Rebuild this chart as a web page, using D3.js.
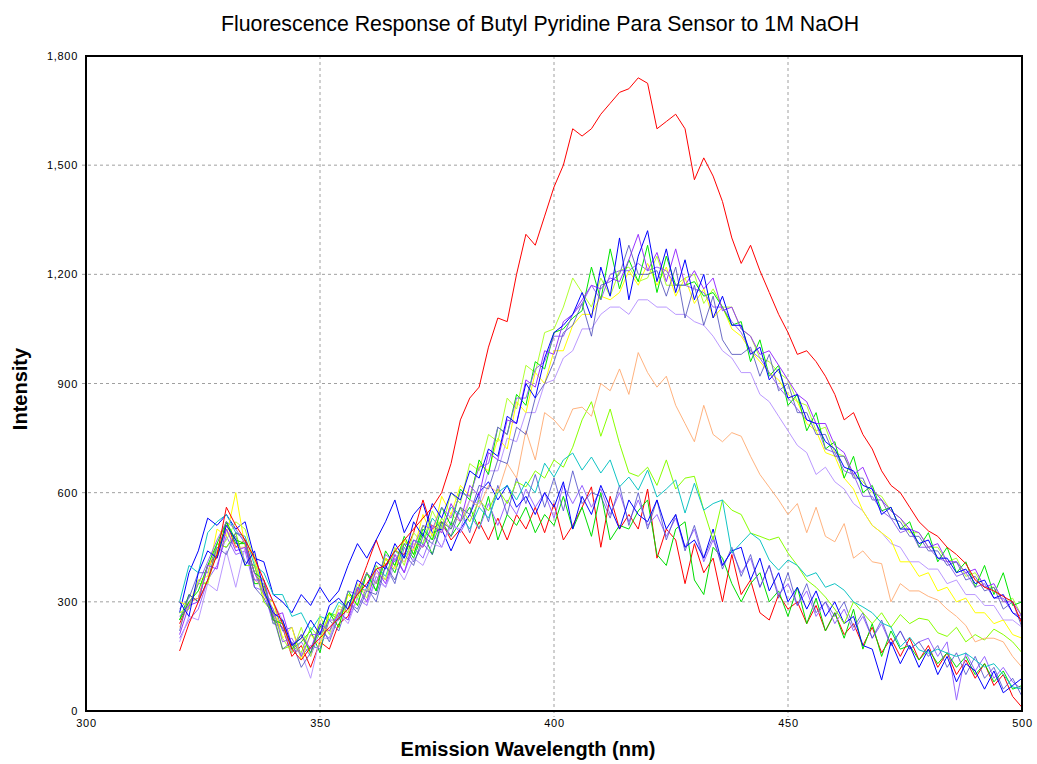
<!DOCTYPE html>
<html lang="en">
<head>
<meta charset="utf-8">
<title>Fluorescence Response</title>
<style>
  body { margin: 0; background: #fff; }
  svg { display: block; font-family: Arial, "Liberation Sans", sans-serif; }
  .grid line { stroke: #a0a0a0; stroke-dasharray: 3,3; }
  .tick text { font-size: 11px; letter-spacing: 0.7px; fill: #000; }
  .series { fill: none; stroke-width: 1; stroke-linejoin: round; }
</style>
</head>
<body>
<div id="chart"></div>
<script src="https://d3js.org/d3.v7.min.js"></script>
<script>
// emission wavelengths (nm), sampled every 2 nm
var wavelength = [320,322,324,326,328,330,332,334,336,338,
  340,342,344,346,348,350,352,354,356,358,
  360,362,364,366,368,370,372,374,376,378,
  380,382,384,386,388,390,392,394,396,398,
  400,402,404,406,408,410,412,414,416,418,
  420,422,424,426,428,430,432,434,436,438,
  440,442,444,446,448,450,452,454,456,458,
  460,462,464,466,468,470,472,474,476,478,
  480,482,484,486,488,490,492,494,496,498,
  500];

// low-response group
var redLow = [240,300,310,400,430,520,450,470,380,340,
  250,230,150,180,120,190,170,240,260,330,
  400,470,400,440,430,490,580,500,520,470,
  500,460,520,470,530,470,540,500,560,490,
  570,470,510,560,616,450,590,500,540,500,
  610,420,500,470,350,460,380,420,300,430,
  320,360,270,250,320,280,300,240,290,220,
  270,210,240,180,230,160,200,150,200,140,
  180,120,160,100,140,90,130,70,100,40,
  10];
var blueLow = [270,380,440,530,510,540,500,520,420,410,
  320,300,270,320,290,340,300,330,400,460,
  420,470,520,580,490,540,570,490,500,440,
  500,540,600,630,580,620,560,590,540,600,
  560,630,500,590,540,620,560,500,580,540,
  520,580,500,540,450,470,420,500,400,440,
  450,360,420,330,380,300,340,280,330,260,
  300,240,260,180,170,85,190,130,180,120,
  170,100,150,80,130,110,60,110,50,70,
  90];
var greenLow = [250,320,300,400,420,520,460,460,350,350,
  240,250,170,190,220,160,270,250,300,320,
  380,330,420,380,460,420,490,430,520,480,
  520,560,500,590,470,540,510,560,490,540,
  510,590,500,560,480,600,470,510,500,550,
  580,430,400,500,520,360,320,450,420,350,
  300,350,380,300,330,260,340,240,310,220,
  270,200,280,170,240,150,220,170,180,140,
  170,130,160,120,150,100,130,80,110,60,
  70];
var purpleLow = [200,250,280,360,400,480,430,440,340,330,
  240,230,160,190,150,220,200,270,250,310,
  290,370,340,420,380,450,420,490,450,520,
  490,540,500,570,510,580,540,610,560,600,
  530,620,570,620,560,610,540,600,520,580,
  510,540,480,530,450,500,410,470,400,440,
  380,420,340,400,320,350,290,330,260,300,
  240,280,220,260,200,240,180,220,170,190,
  200,150,190,30,160,110,150,90,120,80,
  60];
var slateLow = [280,310,380,380,460,450,480,410,400,320,
  300,220,230,150,180,170,250,220,300,280,
  340,300,400,350,450,410,460,430,510,480,
  560,490,590,520,620,540,640,570,650,560,
  640,550,660,570,600,590,530,620,510,600,
  500,580,470,540,440,510,420,480,390,450,
  370,430,340,400,310,380,290,350,270,300,
  260,300,230,270,200,250,180,220,170,190,
  150,180,120,160,100,150,90,120,60,90,
  40];

// middle group
var limeMid = [270,280,350,350,460,450,490,400,400,300,
  270,170,180,160,230,200,270,260,320,310,
  380,350,420,400,470,430,510,470,530,500,
  560,520,580,550,610,570,630,616,660,640,
  690,670,725,800,850,755,830,735,655,645,
  670,620,690,610,640,645,552,470,580,552,
  540,489,480,470,478,434,400,360,340,313,
  280,240,300,270,240,270,230,265,240,255,
  250,215,205,230,190,210,195,225,210,190,
  160];
var cyanMid = [300,400,380,490,520,540,490,480,400,380,
  320,320,260,270,220,260,250,300,280,340,
  330,400,370,440,420,470,460,530,500,560,
  540,500,560,530,600,620,580,630,600,681,
  643,690,709,662,698,654,690,616,643,607,
  662,588,610,635,544,626,552,570,580,434,
  462,489,470,415,387,415,400,370,380,340,
  350,332,300,286,270,242,231,176,203,168,
  159,170,159,150,159,140,121,130,100,66,
  60];
var peach = [230,300,310,400,420,500,450,450,360,340,
  260,240,180,200,170,230,220,280,270,330,
  330,380,360,430,410,460,450,510,490,540,
  520,580,560,620,600,680,640,770,690,820,
  800,770,830,835,810,900,880,940,870,985,
  930,890,920,840,790,740,840,760,740,765,
  755,700,650,615,580,540,570,490,560,480,
  465,515,420,440,410,405,300,350,330,330,
  315,305,280,260,235,190,200,200,190,150,
  120];

// main group
var blueA = [300,260,380,440,420,510,470,400,440,330,
  270,250,180,200,250,210,290,310,280,360,
  340,410,390,460,420,520,480,570,530,600,
  580,660,640,720,700,810,790,900,860,970,
  1040,1060,1090,1150,1080,1220,1140,1300,1130,1250,
  1320,1180,1270,1150,1240,1130,1200,1080,1140,1060,
  1060,980,1000,910,940,860,870,800,790,740,
  720,670,660,620,610,540,560,500,500,460,
  470,420,420,380,390,350,360,310,320,270,
  250];
var slateA = [220,320,300,360,450,430,490,470,340,310,
  260,170,190,120,160,240,190,260,300,270,
  330,320,400,360,430,400,480,460,520,500,
  560,540,620,610,690,680,780,760,860,900,
  960,1040,1060,1120,1030,1170,1180,1200,1280,1200,
  1200,1210,1140,1220,1080,1170,1060,1140,1020,980,
  980,1000,920,980,880,900,820,820,760,760,
  700,700,640,640,580,580,530,520,480,480,
  440,440,400,410,360,370,330,340,280,300,
  230];
var greenA = [250,300,330,400,460,520,470,460,380,360,
  250,240,170,210,160,230,270,230,330,290,
  380,330,440,400,480,430,500,470,560,510,
  610,580,690,650,780,760,870,840,960,940,
  1040,1050,1080,1100,1220,1130,1270,1160,1240,1180,
  1280,1150,1250,1170,1170,1180,1140,1150,1110,1060,
  1070,960,1020,920,950,840,870,770,820,720,
  740,640,700,600,620,550,560,500,520,450,
  490,410,450,380,410,340,400,320,380,290,
  300];
var chartreuseA = [270,280,360,350,440,470,520,500,410,330,
  280,200,160,230,150,260,210,290,270,350,
  310,400,360,450,400,490,460,550,500,600,
  570,680,660,760,740,860,830,950,930,1040,
  1050,1110,1190,1150,1110,1190,1140,1210,1220,1180,
  1190,1250,1170,1170,1190,1200,1120,1160,1110,1110,
  1050,1030,970,960,930,910,850,840,770,780,
  710,700,650,630,600,590,550,530,490,490,
  450,450,410,420,370,380,340,340,300,310,
  260];
var yellowA = [300,290,360,370,500,480,600,450,430,310,
  300,200,230,140,210,180,270,230,320,290,
  380,350,420,390,470,440,540,480,590,540,
  620,590,680,660,750,720,850,820,930,900,
  990,990,1060,1090,1090,1140,1130,1150,1210,1170,
  1230,1170,1220,1140,1190,1120,1160,1080,1110,1050,
  1030,990,960,930,910,870,850,790,770,710,
  700,640,610,550,510,490,470,410,410,370,
  380,330,340,300,310,270,270,240,250,210,
  200];
var violetA = [210,290,300,400,390,500,440,450,360,360,
  260,270,180,210,170,240,220,270,250,340,
  300,390,350,430,380,470,450,510,490,570,
  520,620,590,710,690,800,790,910,890,990,
  980,1070,1090,1130,1170,1160,1190,1180,1240,1310,
  1210,1260,1180,1270,1170,1210,1160,1190,1100,1110,
  1050,1030,980,990,950,910,870,850,790,790,
  730,710,650,670,610,580,550,530,500,490,
  450,460,410,410,380,390,340,350,300,300,
  260];
var lavenderA = [190,260,250,350,330,440,340,450,380,350,
  300,250,170,160,90,200,200,270,240,310,
  290,360,340,400,360,420,400,460,450,510,
  500,580,570,660,660,750,740,820,820,900,
  910,970,990,1050,1050,1090,1110,1110,1090,1130,
  1130,1110,1110,1090,1090,1070,1060,1030,990,970,
  930,930,870,850,810,770,730,710,650,670,
  630,610,570,550,510,490,460,450,410,410,
  390,390,350,360,320,320,290,290,250,250,
  230];
var purpleA = [260,290,350,410,470,520,500,460,380,320,
  280,190,200,150,210,210,250,250,330,320,
  380,350,430,410,460,450,510,500,560,530,
  600,590,670,680,780,760,860,860,940,960,
  1030,1030,1090,1120,1170,1130,1200,1210,1210,1230,
  1210,1220,1210,1170,1170,1160,1150,1110,1110,1070,
  1040,990,970,930,890,860,830,800,790,720,
  710,660,650,590,590,550,530,490,500,450,
  450,420,410,370,380,340,350,310,310,270,
  260];
var redHigh = [165,240,300,360,430,560,510,470,420,360,
  300,240,170,140,175,200,230,255,280,320,
  350,390,400,440,470,500,530,560,600,680,
  800,860,890,1000,1080,1070,1200,1310,1280,1360,
  1440,1500,1600,1580,1600,1640,1670,1700,1710,1740,
  1725,1600,1620,1640,1600,1460,1520,1470,1400,1300,
  1230,1280,1210,1150,1090,1040,980,990,960,920,
  870,800,820,760,720,660,620,600,560,520,
  495,480,450,430,405,360,340,330,315,300,
  240];

var xTicks = [300, 350, 400, 450, 500];
var yTicks = [0, 300, 600, 900, 1200, 1500, 1800];

var series = [
  {name: "redLow", values: redLow, color: "#ff0000", opacity: 1},
  {name: "greenLow", values: greenLow, color: "#00dd00", opacity: 1},
  {name: "purpleLow", values: purpleLow, color: "#9966ff", opacity: 1},
  {name: "slateLow", values: slateLow, color: "#4a4ac8", opacity: 0.8},
  {name: "blueLow", values: blueLow, color: "#0000ff", opacity: 1},
  {name: "limeMid", values: limeMid, color: "#88ff00", opacity: 1},
  {name: "cyanMid", values: cyanMid, color: "#10c4c4", opacity: 1},
  {name: "peach", values: peach, color: "#ffaa70", opacity: 0.9},
  {name: "lavenderA", values: lavenderA, color: "#bb99ff", opacity: 1},
  {name: "yellowA", values: yellowA, color: "#ffff00", opacity: 1},
  {name: "chartreuseA", values: chartreuseA, color: "#b0ff30", opacity: 1},
  {name: "greenA", values: greenA, color: "#00e600", opacity: 1},
  {name: "violetA", values: violetA, color: "#9933ff", opacity: 1},
  {name: "slateA", values: slateA, color: "#4848b8", opacity: 0.8},
  {name: "purpleA", values: purpleA, color: "#8855ee", opacity: 0.9},
  {name: "blueA", values: blueA, color: "#0000ff", opacity: 1},
  {name: "redHigh", values: redHigh, color: "#ff0000", opacity: 1}
];
series.forEach(function (s) {
  if (s.values.length !== wavelength.length) {
    throw new Error(s.name + " has " + s.values.length + " values");
  }
});

var width = 1037, height = 764;
var margin = {top: 56, right: 15, bottom: 53, left: 86};

var svg = d3.select("#chart").append("svg")
  .attr("width", width)
  .attr("height", height);

var x = d3.scaleLinear().domain([300, 500]).range([margin.left, width - margin.right]);
var y = d3.scaleLinear().domain([0, 1800]).range([height - margin.bottom, margin.top]);

// grid
svg.append("g").attr("class", "grid")
  .selectAll("line.v").data(xTicks.slice(1, -1)).join("line")
  .attr("x1", function (d) { return x(d); }).attr("x2", function (d) { return x(d); })
  .attr("y1", y(1800)).attr("y2", y(0) + 6);
svg.append("g").attr("class", "grid")
  .selectAll("line.h").data(yTicks.slice(1, -1)).join("line")
  .attr("x1", x(300) - 4).attr("x2", x(500))
  .attr("y1", function (d) { return y(d); }).attr("y2", function (d) { return y(d); });

// spectra
var line = d3.line()
  .x(function (d, i) { return x(wavelength[i]); })
  .y(function (d) { return y(d); });

svg.append("g").selectAll("path").data(series).join("path")
  .attr("class", "series")
  .attr("stroke", function (d) { return d.color; })
  .attr("stroke-opacity", function (d) { return d.opacity; })
  .attr("d", function (d) { return line(d.values); });

// axes
var xAxis = svg.append("g")
  .attr("transform", "translate(0," + y(0) + ")")
  .call(d3.axisBottom(x).tickValues(xTicks).tickSize(0).tickPadding(8));
var yAxis = svg.append("g")
  .attr("transform", "translate(" + x(300) + ",0)")
  .call(d3.axisLeft(y).tickValues(yTicks).tickFormat(d3.format(",")).tickSize(0).tickPadding(8));
xAxis.select(".domain").remove();
yAxis.select(".domain").remove();

// frame
svg.append("rect")
  .attr("x", x(300)).attr("y", y(1800))
  .attr("width", x(500) - x(300)).attr("height", y(0) - y(1800))
  .attr("fill", "none").attr("stroke", "#000").attr("stroke-width", 2);

// titles
svg.append("text")
  .attr("x", 540).attr("y", 31)
  .attr("text-anchor", "middle")
  .style("font-size", "21.3px")
  .text("Fluorescence Response of Butyl Pyridine Para Sensor to 1M NaOH");

svg.append("text")
  .attr("x", 528).attr("y", 756)
  .attr("text-anchor", "middle")
  .style("font-size", "20px").style("font-weight", "bold")
  .text("Emission Wavelength (nm)");

svg.append("text")
  .attr("transform", "translate(27,389) rotate(-90)")
  .attr("text-anchor", "middle")
  .style("font-size", "20px").style("font-weight", "bold")
  .text("Intensity");
</script>
</body>
</html>
